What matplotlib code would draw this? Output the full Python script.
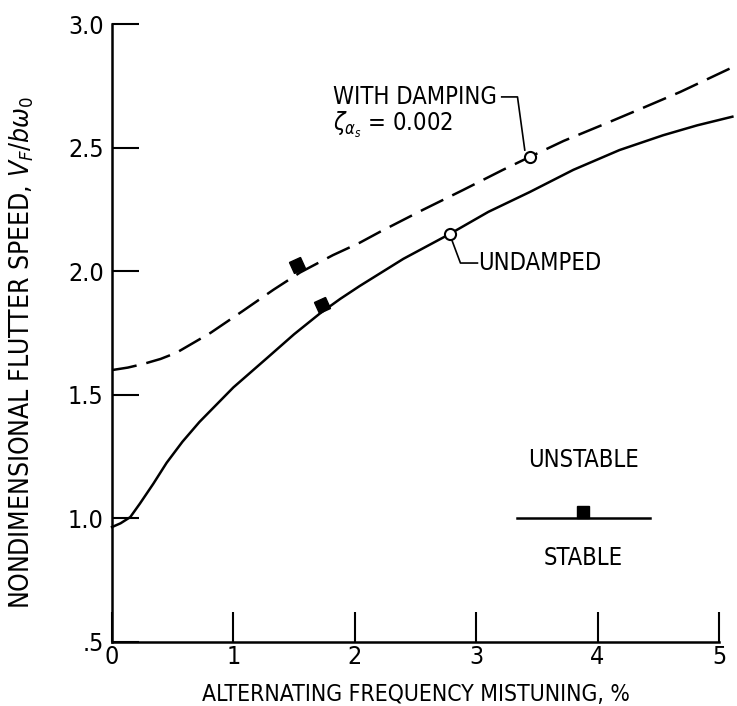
import numpy as np
import matplotlib
matplotlib.use("Agg")
import matplotlib.pyplot as plt
from matplotlib.markers import MarkerStyle
from matplotlib.transforms import Affine2D

plt.rcParams['font.family'] = ['DejaVu Sans']
plt.rcParams['font.stretch'] = 'condensed'
plt.rcParams['mathtext.fontset'] = 'dejavusans'

# ----------------------------------------------------------
# data
# ----------------------------------------------------------
undamped_x = [0, 0.07, 0.15, 0.23, 0.34, 0.45, 0.58, 0.72, 0.86, 1.0, 1.28, 1.5,
              1.71, 1.88, 2.04, 2.4, 2.78, 3.1, 3.44, 3.8, 4.18, 4.54, 4.82, 5.11]
undamped_y = [0.965, 0.98, 1.005, 1.06, 1.14, 1.225, 1.31, 1.39, 1.46, 1.53, 1.65, 1.745,
              1.828, 1.888, 1.94, 2.05, 2.15, 2.24, 2.32, 2.41, 2.49, 2.55, 2.59, 2.625]

damped_x = [0, 0.13, 0.26, 0.4, 0.53, 0.67, 0.81, 1.08, 1.33, 1.55, 1.82, 2.04, 2.21, 2.56,
            2.89, 3.22, 3.44, 3.72, 4.08, 4.37, 4.68, 5.09]
damped_y = [1.60, 1.61, 1.625, 1.645, 1.67, 1.71, 1.75, 1.84, 1.925, 1.995, 2.065, 2.115, 2.16,
            2.248, 2.328, 2.41, 2.462, 2.527, 2.60, 2.66, 2.725, 2.82]

# open circles (labelled points) and filled squares (stability boundary)
open_x = [2.78, 3.44]
open_y = [2.15, 2.462]
square_x = [1.73, 1.52]
square_y = [1.862, 2.025]

# legend key
key_x = [3.34, 4.43]
key_y = [1.0, 1.0]
key_sq_x = 3.88
key_sq_y = 1.026

xticks = [0, 1, 2, 3, 4, 5]
yticks = [0.5, 1.0, 1.5, 2.0, 2.5, 3.0]
ytick_labels = [".5", "1.0", "1.5", "2.0", "2.5", "3.0"]

# ----------------------------------------------------------
# plot
# ----------------------------------------------------------
fig = plt.figure(figsize=(7.37, 7.06), dpi=100)
ax = fig.add_axes([0.152, 0.0907, 0.8236, 0.8753])

ax.plot(undamped_x, undamped_y, color="black", lw=1.8, clip_on=False)
ax.plot(damped_x, damped_y, color="black", lw=1.8, dashes=(10, 4), clip_on=False)

ax.plot(open_x, open_y, "o", ms=8, mfc="white", mec="black", mew=1.5, zorder=5)
tilted = MarkerStyle("s", transform=Affine2D().rotate_deg(22))
ax.plot(square_x, square_y, linestyle="none", marker=tilted, ms=9, color="black", zorder=5)

ax.plot(key_x, key_y, color="black", lw=1.8)
ax.plot(key_sq_x, key_sq_y, "s", ms=8.5, color="black")
ax.text(key_sq_x, 1.236, "UNSTABLE", ha="center", va="center", fontsize=17)
ax.text(key_sq_x, 0.84, "STABLE", ha="center", va="center", fontsize=17)

# annotations with leader lines
ax.text(1.82, 2.705, "WITH DAMPING", ha="left", va="center", fontsize=17)
ax.text(1.82, 2.59, r"$\zeta_{\alpha_s}$ = 0.002", ha="left", va="center", fontsize=17)
ax.plot([3.21, 3.34, 3.40], [2.705, 2.705, 2.49], color="black", lw=1.2)

ax.text(3.015, 2.033, "UNDAMPED", ha="left", va="center", fontsize=17)
ax.plot([2.80, 2.87, 3.01], [2.125, 2.033, 2.033], color="black", lw=1.2)

ax.set_xlim(0, 5)
ax.set_ylim(0.5, 3.0)
ax.set_xticks(xticks)
ax.set_yticks(yticks)
ax.set_yticklabels(ytick_labels)
ax.tick_params(direction="in", width=1.5, labelsize=18)
ax.tick_params(axis="y", length=19.5, pad=6)
ax.tick_params(axis="x", length=21.5, pad=2)

for s in ["top", "right"]:
    ax.spines[s].set_visible(False)
for s in ["left", "bottom"]:
    ax.spines[s].set_linewidth(1.8)

ax.set_xlabel("ALTERNATING FREQUENCY MISTUNING, %", fontsize=16.5, labelpad=10)
ax.set_ylabel(r"NONDIMENSIONAL FLUTTER SPEED, $V_F/b\omega_0$", fontsize=19)
ax.yaxis.set_label_coords(-0.125, 0.469)

fig.savefig("out.png", dpi=100)
